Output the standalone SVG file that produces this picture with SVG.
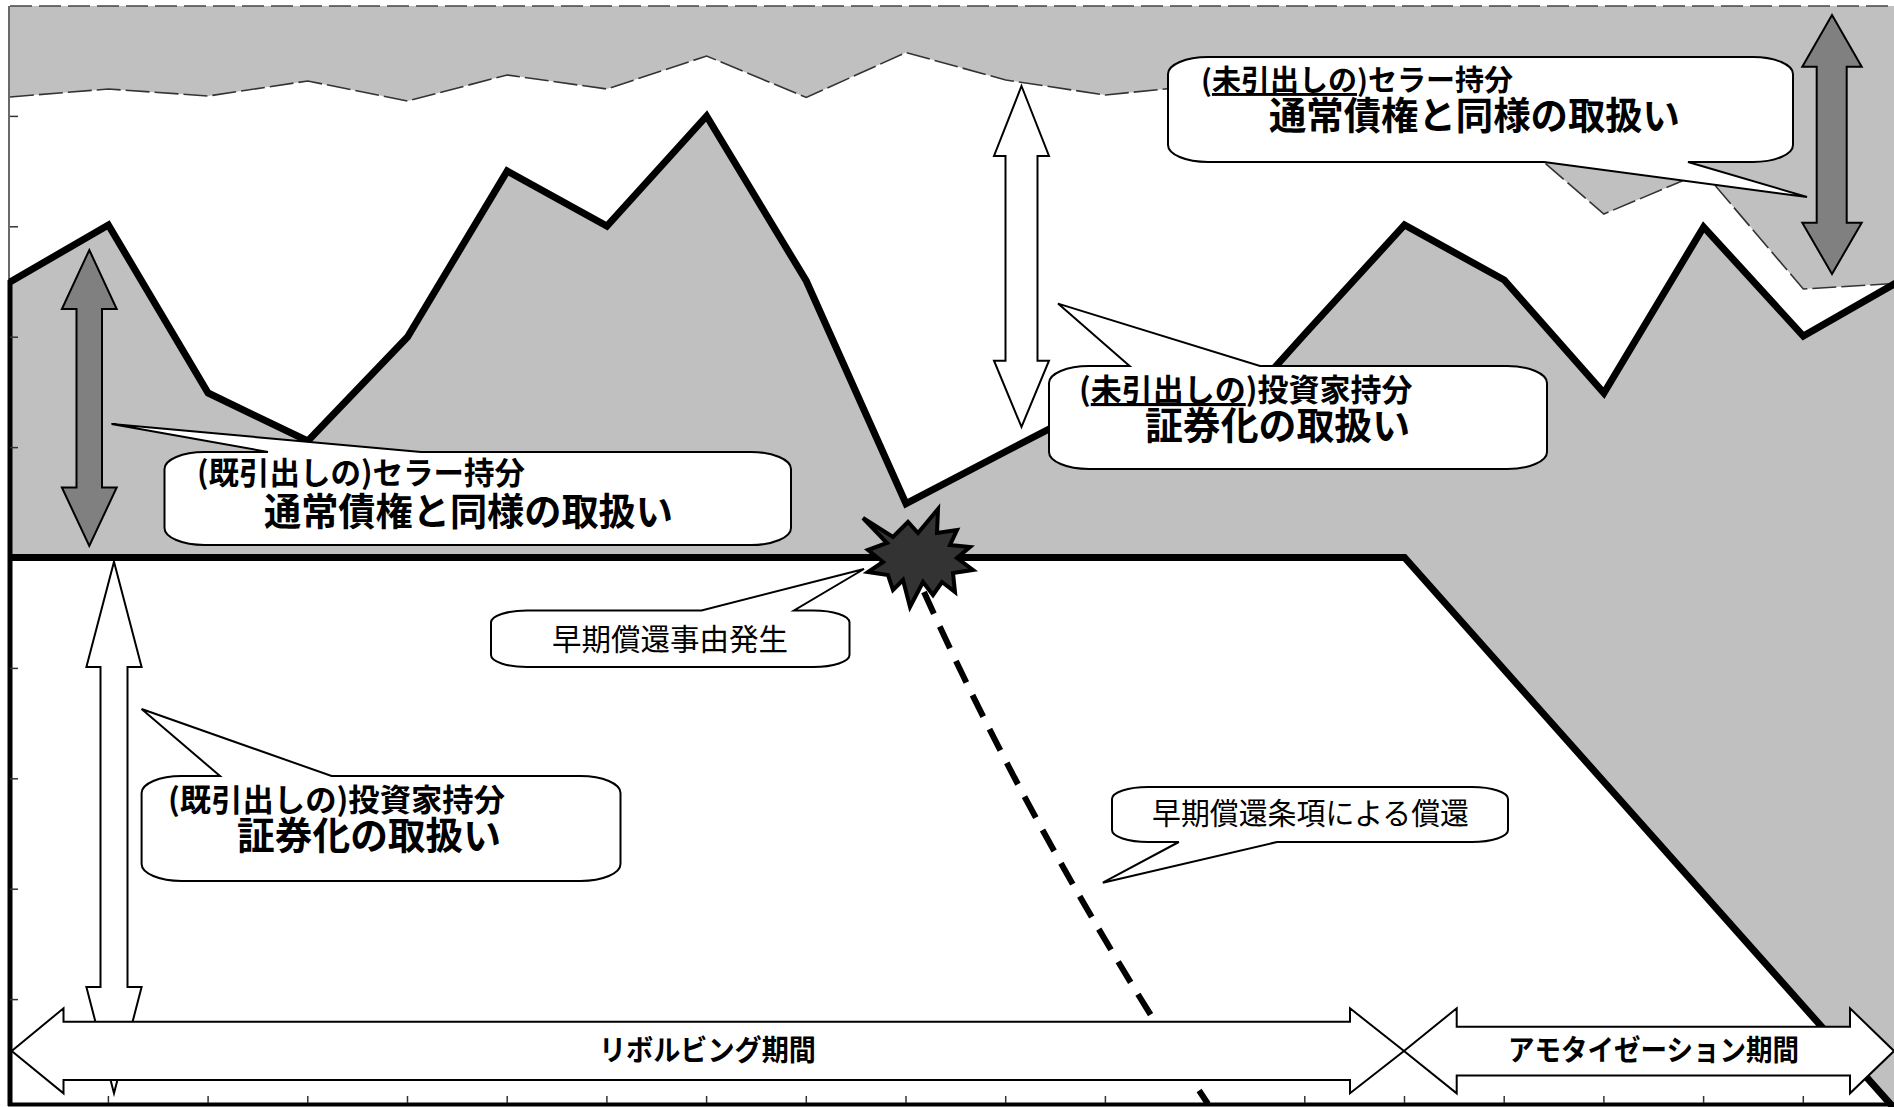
<svg xmlns="http://www.w3.org/2000/svg" width="1894" height="1107" viewBox="0 0 1894 1107">
<style>
.gray{fill:#c0c0c0;stroke:none}
.thick{fill:none;stroke:#000;stroke-width:7;stroke-linejoin:miter;stroke-miterlimit:10}
.jag{fill:none;stroke:#333;stroke-width:1.6;stroke-dasharray:24 5}
.border{fill:none;stroke:#444;stroke-width:1.6;stroke-dasharray:22 7}
.tick{stroke:#333;stroke-width:1.5}
.callout{fill:#fff;stroke:#000;stroke-width:2;stroke-linejoin:miter}
.darr{fill:#808080;stroke:#000;stroke-width:2}
.warr{fill:#fff;stroke:#000;stroke-width:2}
text{font-family:'Noto Sans CJK JP','Noto Sans CJK SC',sans-serif;fill:#000}
.t1{font-weight:700;font-size:31px}
.t1s{font-weight:700;font-size:29px}
.t2{font-weight:700;font-size:38px}
.t3{font-weight:400;font-size:30px}
.tp{font-weight:700;font-size:29px}
.ul{text-decoration:underline}
</style>
<rect x="0" y="0" width="1894" height="1107" fill="#fff"/>

<g id="chart">
  <polygon class="gray" points="10,6 1900,6 1900,283 1903,283 1803.3,289 1703.6,172 1603.9,214 1504.2,128 1404.5,95 1304.8,110 1205.1,85 1105.4,95 1005.7,80 906,52.5 806.3,97.5 706.6,56 606.9,89 507.2,75 407.5,101 307.8,81 208.1,96 108.4,89 10,97"/>
  <polyline class="jag" points="10,97 108.4,89 208.1,96 307.8,81 407.5,101 507.2,75 606.9,89 706.6,56 806.3,97.5 906,52.5 1005.7,80 1105.4,95 1205.1,85 1304.8,110 1404.5,95 1504.2,128 1603.9,214 1703.6,172 1803.3,289 1903,283"/>
  <line class="border" x1="10" y1="6" x2="1894" y2="6"/>
  <line x1="9" y1="6" x2="9" y2="282" stroke="#444" stroke-width="1.6"/>
  <polygon class="gray" points="10,282 108.4,225 208.1,393 307.8,441 407.5,337 507.2,171 606.9,226 706.6,116 806.3,281 906,503.6 1005.7,451.5 1105.4,400 1205.1,445 1304.8,334 1404.5,225 1504.2,280 1603.9,393 1703.6,227 1803.3,336 1903,279 1910,279 1910,1125 1909,1125 1404.5,557.5 10,557.5"/>
  <polyline class="thick" points="10,282 108.4,225 208.1,393 307.8,441 407.5,337 507.2,171 606.9,226 706.6,116 806.3,281 906,503.6 1005.7,451.5 1105.4,400 1205.1,445 1304.8,334 1404.5,225 1504.2,280 1603.9,393 1703.6,227 1803.3,336 1903,279"/>
  <polyline class="thick" points="10,557.5 1404.5,557.5 1909,1125"/>
  <line x1="10" y1="280" x2="10" y2="1106" stroke="#000" stroke-width="5"/>
  <line x1="8" y1="1104.5" x2="1894" y2="1104.5" stroke="#000" stroke-width="4"/>
  <g id="ticks">
    <line class="tick" x1="10" y1="116.4" x2="18" y2="116.4"/>
    <line class="tick" x1="10" y1="226.8" x2="18" y2="226.8"/>
    <line class="tick" x1="10" y1="337.2" x2="18" y2="337.2"/>
    <line class="tick" x1="10" y1="447.6" x2="18" y2="447.6"/>
    <line class="tick" x1="10" y1="668.4" x2="18" y2="668.4"/>
    <line class="tick" x1="10" y1="778.8" x2="18" y2="778.8"/>
    <line class="tick" x1="10" y1="889.2" x2="18" y2="889.2"/>
    <line class="tick" x1="10" y1="999.6" x2="18" y2="999.6"/>
    <line class="tick" x1="108.4" y1="1096" x2="108.4" y2="1103"/>
    <line class="tick" x1="208.1" y1="1096" x2="208.1" y2="1103"/>
    <line class="tick" x1="307.8" y1="1096" x2="307.8" y2="1103"/>
    <line class="tick" x1="407.5" y1="1096" x2="407.5" y2="1103"/>
    <line class="tick" x1="507.2" y1="1096" x2="507.2" y2="1103"/>
    <line class="tick" x1="606.9" y1="1096" x2="606.9" y2="1103"/>
    <line class="tick" x1="706.6" y1="1096" x2="706.6" y2="1103"/>
    <line class="tick" x1="806.3" y1="1096" x2="806.3" y2="1103"/>
    <line class="tick" x1="906" y1="1096" x2="906" y2="1103"/>
    <line class="tick" x1="1005.7" y1="1096" x2="1005.7" y2="1103"/>
    <line class="tick" x1="1105.4" y1="1096" x2="1105.4" y2="1103"/>
    <line class="tick" x1="1205.1" y1="1096" x2="1205.1" y2="1103"/>
    <line class="tick" x1="1304.8" y1="1096" x2="1304.8" y2="1103"/>
    <line class="tick" x1="1404.5" y1="1096" x2="1404.5" y2="1103"/>
    <line class="tick" x1="1504.2" y1="1096" x2="1504.2" y2="1103"/>
    <line class="tick" x1="1603.9" y1="1096" x2="1603.9" y2="1103"/>
    <line class="tick" x1="1703.6" y1="1096" x2="1703.6" y2="1103"/>
    <line class="tick" x1="1803.3" y1="1096" x2="1803.3" y2="1103"/>
  </g>
</g>

<g id="connectors">
  <path d="M 924,592 Q 1040,850 1208,1104" fill="none" stroke="#000" stroke-width="6" stroke-dasharray="24 14"/>
</g>

<g id="star">
  <polygon points="863,518 893,537 908,522 918,533 938,509 937,533 957,530 950,545 970,547 957,558 973,570 953,573 955,592 942,582 933,595 923,582 910,607 903,580 893,590 888,575 868,572 883,562 868,550 887,543" fill="#333" stroke="#000" stroke-width="4" stroke-linejoin="miter"/>
</g>

<g id="arrow-seller-drawn">
  <path class="darr" d="M 89.3,250 L 116.7,309 L 102,309 L 102,487.5 L 116.7,487.5 L 89.3,546 L 61.9,487.5 L 76.5,487.5 L 76.5,309 L 61.9,309 Z"/>
</g>
<g id="arrow-seller-undrawn">
  <path class="darr" d="M 1832,15 L 1861.7,66.7 L 1846.7,66.7 L 1846.7,222.7 L 1861.7,222.7 L 1832,274 L 1802.3,222.7 L 1816.7,222.7 L 1816.7,66.7 L 1802.3,66.7 Z"/>
</g>
<g id="arrow-investor-undrawn">
  <path class="warr" d="M 1021.5,86 L 1049,156 L 1037.5,156 L 1037.5,360.7 L 1049,360.7 L 1021.5,427 L 994,360.7 L 1005.5,360.7 L 1005.5,156 L 994,156 Z"/>
</g>
<g id="arrow-investor-drawn">
  <path class="warr" d="M 114,561.7 L 141.6,667 L 127.5,667 L 127.5,987 L 141.6,987 L 114,1093.3 L 86.4,987 L 100.5,987 L 100.5,667 L 86.4,667 Z"/>
</g>

<g id="callout-seller-drawn">
  <path class="callout" d="M 204.5,452 L 268,452 L 111.6,424 L 421,452 L 751,452 A 40 17 0 0 1 791,469 L 791,528 A 40 17 0 0 1 751,545 L 204.5,545 A 40 17 0 0 1 164.5,528 L 164.5,469 A 40 17 0 0 1 204.5,452 Z"/>
  <text><tspan class="t1" x="197" y="484" textLength="328" lengthAdjust="spacingAndGlyphs">(既引出しの)セラー持分</tspan><tspan class="t2" x="264" y="525" textLength="409" lengthAdjust="spacingAndGlyphs">通常債権と同様の取扱い</tspan></text>
</g>

<g id="callout-seller-undrawn">
  <path class="callout" d="M 1208,57 L 1753,57 A 40 17 0 0 1 1793,74 L 1793,145 A 40 17 0 0 1 1753,162 L 1688,162 L 1807,197 L 1544,162 L 1208,162 A 40 17 0 0 1 1168,145 L 1168,74 A 40 17 0 0 1 1208,57 Z"/>
  <text><tspan class="t1s" x="1201" y="91">(</tspan><tspan class="t1s ul">未引出しの</tspan><tspan class="t1s">)セラー持分</tspan><tspan class="t2" x="1269" y="129" textLength="411" lengthAdjust="spacingAndGlyphs">通常債権と同様の取扱い</tspan></text>
</g>

<g id="callout-investor-undrawn">
  <path class="callout" d="M 1089,366 L 1129.6,366 L 1058,303.6 L 1260,366 L 1507,366 A 40 17 0 0 1 1547,383 L 1547,452 A 40 17 0 0 1 1507,469 L 1089,469 A 40 17 0 0 1 1049,452 L 1049,383 A 40 17 0 0 1 1089,366 Z"/>
  <text><tspan class="t1" x="1079" y="401">(</tspan><tspan class="t1 ul">未引出しの</tspan><tspan class="t1">)投資家持分</tspan><tspan class="t2" x="1145" y="439" textLength="265" lengthAdjust="spacingAndGlyphs">証券化の取扱い</tspan></text>
</g>

<g id="callout-investor-drawn">
  <path class="callout" d="M 181.6,776 L 220,776 L 141.6,709 L 331.6,776 L 580.5,776 A 40 17 0 0 1 620.5,793 L 620.5,864 A 40 17 0 0 1 580.5,881 L 181.6,881 A 40 17 0 0 1 141.6,864 L 141.6,793 A 40 17 0 0 1 181.6,776 Z"/>
  <text><tspan class="t1" x="168" y="811" textLength="337" lengthAdjust="spacingAndGlyphs">(既引出しの)投資家持分</tspan><tspan class="t2" x="237" y="849" textLength="264" lengthAdjust="spacingAndGlyphs">証券化の取扱い</tspan></text>
</g>

<g id="callout-trigger">
  <path class="callout" d="M 527,610.5 L 701.5,610.5 L 864,569 L 794,610.5 L 813.5,610.5 A 36 12 0 0 1 849.5,622.5 L 849.5,655 A 36 12 0 0 1 813.5,667 L 527,667 A 36 12 0 0 1 491,655 L 491,622.5 A 36 12 0 0 1 527,610.5 Z"/>
  <text class="t3" x="552" y="650" textLength="236" lengthAdjust="spacingAndGlyphs">早期償還事由発生</text>
</g>

<g id="callout-early-amortization">
  <path class="callout" d="M 1148,787 L 1472,787 A 36 12 0 0 1 1508,799 L 1508,830 A 36 12 0 0 1 1472,842 L 1277,842 L 1102.8,882.7 L 1178.8,842 L 1148,842 A 36 12 0 0 1 1112,830 L 1112,799 A 36 12 0 0 1 1148,787 Z"/>
  <text class="t3" x="1152" y="824" textLength="317" lengthAdjust="spacingAndGlyphs">早期償還条項による償還</text>
</g>

<g id="period-revolving">
  <path class="warr" d="M 11.7,1051 L 63.5,1008.3 L 63.5,1021.7 L 1350,1021.7 L 1350,1008.3 L 1404,1051 L 1350,1093.3 L 1350,1080 L 63.5,1080 L 63.5,1093.3 Z"/>
  <text class="tp" x="599" y="1061" textLength="217" lengthAdjust="spacingAndGlyphs">リボルビング期間</text>
</g>
<g id="period-amortization">
  <path class="warr" d="M 1404,1051 L 1456.7,1008.3 L 1456.7,1026.7 L 1850,1026.7 L 1850,1008.3 L 1894,1051 L 1850,1093.3 L 1850,1075.5 L 1456.7,1075.5 L 1456.7,1093.3 Z"/>
  <text class="tp" x="1508" y="1061" textLength="291" lengthAdjust="spacingAndGlyphs">アモタイゼーション期間</text>
</g>
</svg>
